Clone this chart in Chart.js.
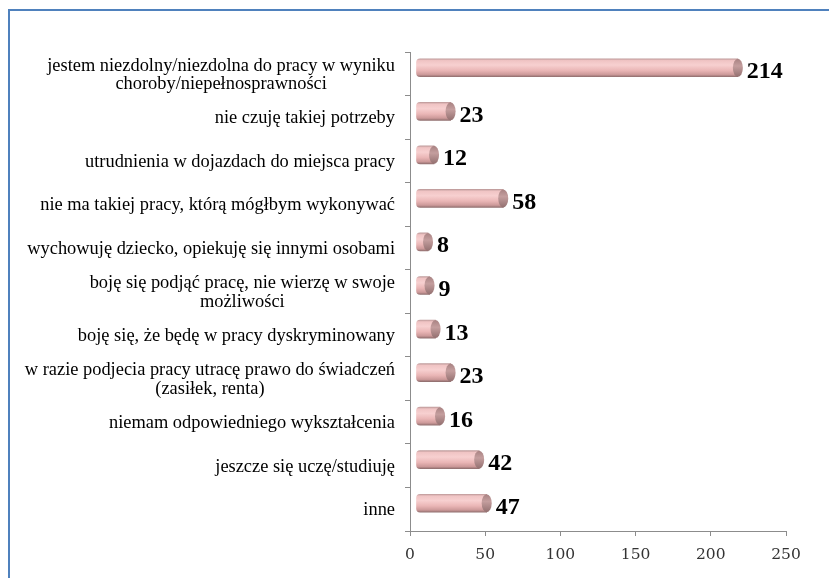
<!DOCTYPE html>
<html>
<head>
<meta charset="utf-8">
<script src="https://cdn.jsdelivr.net/npm/chart.js@4.4.1/dist/chart.umd.min.js"></script>
<style>
  html, body { margin: 0; padding: 0; background: #ffffff; overflow: hidden; }
  #wrap { position: relative; width: 829px; height: 578px; }
  #frame { position: absolute; left: 8px; top: 9px; width: 900px; height: 700px;
           border: 2px solid #4f81bd; box-sizing: border-box; pointer-events: none; }
</style>
</head>
<body>
<div id="wrap">
  <canvas id="c" width="829" height="578"></canvas>
  <div id="frame"></div>
</div>
<script>
const categories = [
  ['jestem niezdolny/niezdolna do pracy w wyniku', 'choroby/niepełnosprawności'],
  'nie czuję takiej potrzeby',
  'utrudnienia w dojazdach do miejsca pracy',
  'nie ma takiej pracy, którą mógłbym wykonywać',
  'wychowuję dziecko, opiekuję się innymi osobami',
  ['boję się podjąć pracę, nie wierzę w swoje', 'możliwości'],
  'boję się, że będę w pracy dyskryminowany',
  ['w razie podjecia pracy utracę prawo do świadczeń', '(zasiłek, renta)'],
  'niemam odpowiedniego wykształcenia',
  'jeszcze się uczę/studiuję',
  'inne'
];
const values = [214, 23, 12, 58, 8, 9, 13, 23, 16, 42, 47];
const xTickValues = [0, 50, 100, 150, 200, 250];

const DX = 6, DY = 6, BAR_T = 18, CAP_RX = 5;

function bodyGradient(c) {
  const chart = c.chart;
  if (!chart.chartArea) return '#ebb6b6';
  const y = chart.scales.y.getPixelForValue(c.dataIndex);
  const g = chart.ctx.createLinearGradient(0, y - BAR_T / 2, 0, y + BAR_T / 2);
  g.addColorStop(0, '#c09c9c');
  g.addColorStop(0.1, '#f0c4c4');
  g.addColorStop(0.35, '#f7d0d0');
  g.addColorStop(0.65, '#eab6b6');
  g.addColorStop(0.88, '#cc9999');
  g.addColorStop(1, '#927070');
  return g;
}

const cylinderPlugin = {
  id: 'cylinder',
  beforeDatasetsDraw(chart) {
    chart.ctx.save();
    chart.ctx.translate(DX, -DY);
  },
  afterDatasetsDraw(chart) {
    const ctx = chart.ctx;
    const meta = chart.getDatasetMeta(0);
    meta.data.forEach((el) => {
      const p = el.getProps(['x', 'y', 'height'], true);
      const ry = p.height / 2;
      const g = ctx.createLinearGradient(0, p.y - ry, 0, p.y + ry);
      g.addColorStop(0, '#a88282');
      g.addColorStop(0.4, '#c49e9e');
      g.addColorStop(1, '#937070');
      ctx.beginPath();
      ctx.ellipse(p.x, p.y, CAP_RX, ry, 0, 0, Math.PI * 2);
      ctx.fillStyle = g;
      ctx.fill();
    });
    ctx.restore();

    ctx.save();
    ctx.font = 'bold 24px "Liberation Serif", "Times New Roman", serif';
    ctx.fillStyle = '#000000';
    ctx.textAlign = 'left';
    ctx.textBaseline = 'alphabetic';
    meta.data.forEach((el, i) => {
      ctx.fillText(String(values[i]), el.x + DX + CAP_RX + 4, el.y - DY + 10.5);
    });
    ctx.restore();
  },
  afterDraw(chart) {
    const ctx = chart.ctx;
    const yScale = chart.scales.y;
    const rightEdge = 395;
    const lh = 18.5;
    ctx.save();
    ctx.font = '18.4px "Liberation Serif", "Times New Roman", serif';
    ctx.fillStyle = '#000000';
    ctx.textBaseline = 'alphabetic';
    ctx.textAlign = 'center';
    categories.forEach((lab, i) => {
      const lines = Array.isArray(lab) ? lab : [lab];
      const widest = Math.max(...lines.map(l => ctx.measureText(l).width));
      const cx = rightEdge - widest / 2;
      const yc = yScale.getPixelForValue(i);
      const first = yc + 6 - (lines.length - 1) * lh / 2;
      lines.forEach((l, k) => ctx.fillText(l, cx, first + k * lh));
    });
    ctx.restore();
  }
};

new Chart(document.getElementById('c'), {
  type: 'bar',
  data: {
    labels: categories,
    datasets: [{
      data: values,
      backgroundColor: bodyGradient,
      borderWidth: 0,
      barThickness: BAR_T,
      borderRadius: { topLeft: 4, bottomLeft: 4, topRight: 0, bottomRight: 0 },
      borderSkipped: false,
      clip: false
    }]
  },
  options: {
    indexAxis: 'y',
    responsive: false,
    animation: false,
    devicePixelRatio: 1,
    layout: { padding: { left: 10, top: 52, right: 43, bottom: 0 } },
    plugins: { legend: { display: false }, tooltip: { enabled: false } },
    scales: {
      x: {
        min: xTickValues[0],
        max: xTickValues[xTickValues.length - 1],
        afterBuildTicks(scale) { scale.ticks = xTickValues.map(v => ({ value: v })); },
        afterFit(scale) { scale.height = 47; },
        grid: { drawOnChartArea: false, drawTicks: true, tickLength: 5, color: '#8c8c8c' },
        border: { display: true, color: '#8c8c8c', width: 1 },
        ticks: {
          font: { family: '"DejaVu Serif", serif', size: 15.5 },
          color: '#333333',
          padding: 10
        }
      },
      y: {
        afterFit(scale) { scale.width = 400; },
        grid: { drawOnChartArea: false, drawTicks: true, tickLength: 5, color: '#8c8c8c', offset: true },
        border: { display: true, color: '#8c8c8c', width: 1 },
        ticks: { display: false }
      }
    }
  },
  plugins: [cylinderPlugin]
});
</script>
</body>
</html>
